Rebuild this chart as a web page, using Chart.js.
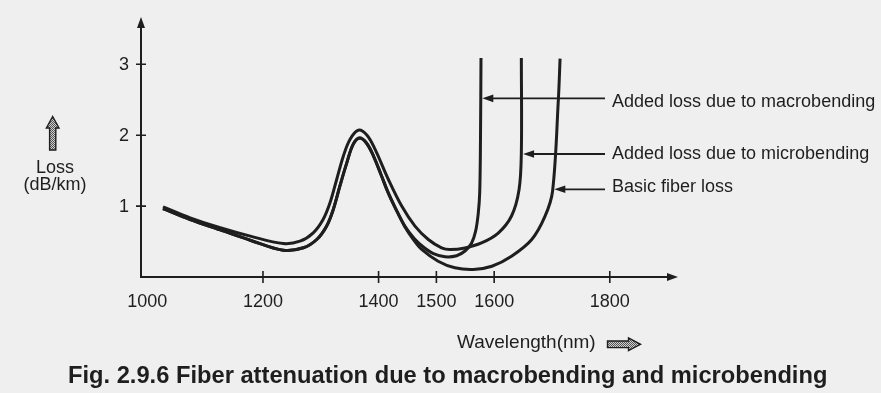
<!DOCTYPE html>
<html>
<head>
<meta charset="utf-8">
<title>Fiber attenuation</title>
<script src="https://cdn.jsdelivr.net/npm/chart.js@4.4.1/dist/chart.umd.min.js"></script>
<style>
  html, body { margin: 0; padding: 0; background: #efefef; }
  #page { position: relative; width: 881px; height: 393px; overflow: hidden; }
  #lossChart { position: absolute; left: 0; top: 0; }
  .txt {
    position: absolute; white-space: nowrap; color: #1e1e1e;
    font-family: "Liberation Sans", Arial, Helvetica, sans-serif;
    font-size: 18px; line-height: 18px;
  }
  .center { width: 110px; text-align: center; }
  .axis-name { font-size: 19px; line-height: 19px; }
  .caption { font-weight: bold; font-size: 23.7px; line-height: 23.7px; }
</style>
</head>
<body>
<div id="page">
  <canvas id="lossChart" width="881" height="393"></canvas>
  <div class="txt" style="left:612px; top:92px">Added loss due to macrobending</div>
  <div class="txt" style="left:612px; top:144px">Added loss due to microbending</div>
  <div class="txt" style="left:612px; top:176.5px">Basic fiber loss</div>
  <div class="txt center" style="left:0px; top:158px">Loss</div>
  <div class="txt center" style="left:0px; top:175px">(dB/km)</div>
  <div class="txt axis-name" style="left:457px; top:332px">Wavelength(nm)</div>
  <div class="txt caption" style="left:68px; top:364px">Fig. 2.9.6 Fiber attenuation due to macrobending and microbending</div>
</div>
<script>
// Tick values on both axes
const xTicks = [1000, 1200, 1400, 1500, 1600, 1800];
const yTicks = [1, 2, 3];

// Wavelength (nm) / loss (dB/km) pairs for each curve
const basicLoss = [
  { x: 1027, y: 0.965 }, { x: 1074, y: 0.81 }, { x: 1126, y: 0.665 }, { x: 1178, y: 0.519 },
  { x: 1235, y: 0.378 }, { x: 1270, y: 0.412 }, { x: 1293, y: 0.529 }, { x: 1310, y: 0.717 },
  { x: 1321.6, y: 0.952 }, { x: 1333, y: 1.281 }, { x: 1345, y: 1.61 }, { x: 1356, y: 1.87 },
  { x: 1367, y: 1.96 }, { x: 1379, y: 1.89 }, { x: 1391, y: 1.71 }, { x: 1404, y: 1.45 },
  { x: 1416, y: 1.2 }, { x: 1428, y: 0.99 }, { x: 1446, y: 0.7 }, { x: 1460, y: 0.53 },
  { x: 1474.6, y: 0.388 }, { x: 1503, y: 0.223 }, { x: 1532, y: 0.13 }, { x: 1564, y: 0.106 },
  { x: 1596, y: 0.152 }, { x: 1630, y: 0.293 }, { x: 1665, y: 0.529 }, { x: 1688, y: 0.858 },
  { x: 1701, y: 1.21 }, { x: 1711, y: 2.5 }, { x: 1714, y: 3.08 }
];

const microbendLoss = [
  { x: 1027, y: 0.99 }, { x: 1074, y: 0.835 }, { x: 1126, y: 0.694 }, { x: 1178, y: 0.576 },
  { x: 1235, y: 0.472 }, { x: 1264, y: 0.505 }, { x: 1287, y: 0.623 }, { x: 1304, y: 0.811 },
  { x: 1316, y: 1.047 }, { x: 1327.5, y: 1.375 }, { x: 1339, y: 1.704 }, { x: 1350.5, y: 1.94 },
  { x: 1365, y: 2.07 }, { x: 1380, y: 2.0 }, { x: 1394, y: 1.8 }, { x: 1417, y: 1.375 },
  { x: 1440, y: 1.0 }, { x: 1463, y: 0.717 }, { x: 1486, y: 0.529 }, { x: 1509, y: 0.412 },
  { x: 1523.5, y: 0.388 }, { x: 1549.5, y: 0.41 }, { x: 1578, y: 0.48 }, { x: 1607, y: 0.62 },
  { x: 1630, y: 0.86 }, { x: 1643, y: 1.23 }, { x: 1647, y: 1.76 }, { x: 1647, y: 3.09 }
];

const macrobendLoss = [
  { x: 1027, y: 0.965 }, { x: 1074, y: 0.81 }, { x: 1126, y: 0.665 }, { x: 1178, y: 0.519 },
  { x: 1235, y: 0.378 }, { x: 1270, y: 0.412 }, { x: 1293, y: 0.529 }, { x: 1310, y: 0.717 },
  { x: 1321.6, y: 0.952 }, { x: 1333, y: 1.281 }, { x: 1345, y: 1.61 }, { x: 1356, y: 1.87 },
  { x: 1367, y: 1.96 }, { x: 1379, y: 1.89 }, { x: 1391, y: 1.71 }, { x: 1404, y: 1.45 },
  { x: 1416, y: 1.2 }, { x: 1428, y: 0.99 }, { x: 1446, y: 0.71 }, { x: 1462, y: 0.54 },
  { x: 1478, y: 0.42 }, { x: 1495, y: 0.33 }, { x: 1515, y: 0.285 }, { x: 1535, y: 0.3 },
  { x: 1550, y: 0.37 }, { x: 1561, y: 0.48 }, { x: 1568, y: 0.65 }, { x: 1572.5, y: 0.9 },
  { x: 1575, y: 1.2 }, { x: 1576.3, y: 1.94 }, { x: 1577.2, y: 3.09 }
];

const ink = '#1e1e1e';

// Leader arrows from the labels to their curves: [wavelength, loss] of the tip
const pointers = [
  [1579.5, 2.52],
  [1650, 1.735],
  [1704, 1.237]
];
const pointerTailX = 605;

function arrowHead(ctx, x, y, dx, dy, len, half) {
  const bx = x - dx * len, by = y - dy * len;
  ctx.beginPath();
  ctx.moveTo(x, y);
  ctx.lineTo(bx - dy * half, by + dx * half);
  ctx.lineTo(bx + dy * half, by - dx * half);
  ctx.closePath();
  ctx.fill();
}

function stipple(ctx) {
  const c = document.createElement('canvas');
  c.width = 2; c.height = 2;
  const g = c.getContext('2d');
  g.fillStyle = '#cfcfcf'; g.fillRect(0, 0, 2, 2);
  g.fillStyle = '#555'; g.fillRect(0, 0, 1, 1); g.fillRect(1, 1, 1, 1);
  return ctx.createPattern(c, 'repeat');
}

// hollow block arrow, pts given as polygon
function blockArrow(ctx, pts) {
  ctx.beginPath();
  pts.forEach(([px, py], i) => i ? ctx.lineTo(px, py) : ctx.moveTo(px, py));
  ctx.closePath();
  ctx.fillStyle = stipple(ctx);
  ctx.fill();
  ctx.lineWidth = 1.4;
  ctx.strokeStyle = ink;
  ctx.stroke();
}

const bookAxes = {
  id: 'bookAxes',
  afterDatasetsDraw(chart) {
    const { ctx, chartArea: a, scales: { x, y } } = chart;
    const x0 = a.left;
    const y0 = y.getPixelForValue(0);

    ctx.save();
    ctx.strokeStyle = ink;
    ctx.fillStyle = ink;
    ctx.lineWidth = 2;
    ctx.lineCap = 'butt';

    // axis lines with arrow heads
    ctx.beginPath();
    ctx.moveTo(x0, y0 + 1); ctx.lineTo(x0, a.top + 8);
    ctx.moveTo(x0 - 1, y0); ctx.lineTo(a.right - 8, y0);
    ctx.stroke();
    arrowHead(ctx, x0, a.top, 0, -1, 11, 4);
    arrowHead(ctx, a.right, y0, 1, 0, 11, 4);

    // tick marks cross the axes
    ctx.lineWidth = 1.6;
    ctx.beginPath();
    xTicks.forEach(v => {
      const px = x.getPixelForValue(v);
      if (px - x0 > 8) { ctx.moveTo(px, y0 - 6); ctx.lineTo(px, y0 + 6); }
    });
    yTicks.forEach(v => {
      const py = y.getPixelForValue(v);
      ctx.moveTo(x0 - 5, py); ctx.lineTo(x0 + 5, py);
    });
    ctx.stroke();

    // tick labels
    ctx.font = '18px "Liberation Sans", Arial, sans-serif';
    ctx.textAlign = 'center';
    ctx.textBaseline = 'alphabetic';
    xTicks.forEach(v => ctx.fillText(String(v), x.getPixelForValue(v), y0 + 29.5));
    ctx.textAlign = 'right';
    ctx.textBaseline = 'middle';
    yTicks.forEach(v => ctx.fillText(String(v), x0 - 12, y.getPixelForValue(v) + 0.5));

    // leader arrows to the curves
    ctx.lineWidth = 1.8;
    pointers.forEach(([lx, lv]) => {
      const tx = x.getPixelForValue(lx), ty = y.getPixelForValue(lv);
      ctx.beginPath();
      ctx.moveTo(pointerTailX, ty); ctx.lineTo(tx + 8, ty);
      ctx.stroke();
      arrowHead(ctx, tx, ty, -1, 0, 11, 3.8);
    });

    // block arrows beside the axis titles
    blockArrow(ctx, [[52.7, 116.5], [59, 128], [55.8, 128], [55.8, 150], [49.6, 150], [49.6, 128], [46.4, 128]]);
    blockArrow(ctx, [[607.5, 341], [628.5, 341], [628.5, 338], [640.5, 344.3], [628.5, 350.6], [628.5, 347.6], [607.5, 347.6]]);

    ctx.restore();
  }
};

const curve = (label, data) => ({
  label,
  data,
  borderColor: ink,
  borderWidth: 3,
  pointRadius: 0,
  tension: 0.35,
  fill: false
});

new Chart(document.getElementById('lossChart'), {
  type: 'line',
  data: {
    datasets: [
      curve('Basic fiber loss', basicLoss),
      curve('Added loss due to microbending', microbendLoss),
      curve('Added loss due to macrobending', macrobendLoss)
    ]
  },
  options: {
    responsive: false,
    animation: false,
    devicePixelRatio: 1,
    layout: { padding: { left: 141, right: 203, top: 17, bottom: 116 } },
    plugins: { legend: { display: false }, tooltip: { enabled: false } },
    scales: {
      x: { type: 'linear', min: 989, max: 1918, display: false },
      y: { type: 'linear', min: 0, max: 3.667, display: false }
    }
  },
  plugins: [bookAxes]
});
</script>
</body>
</html>
